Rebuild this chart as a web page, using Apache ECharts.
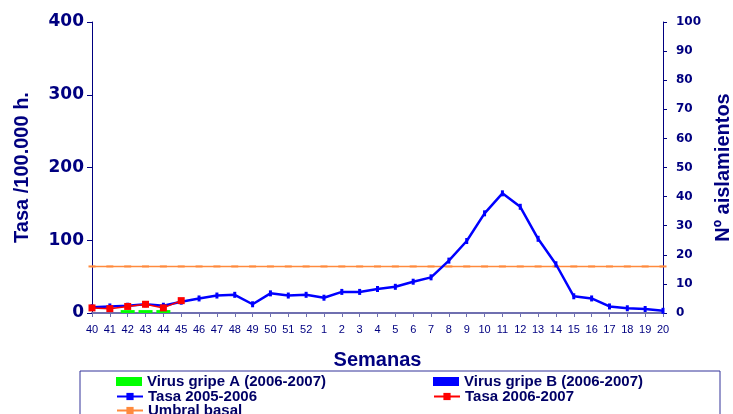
<!DOCTYPE html>
<html><head><meta charset="utf-8">
<script src="https://cdn.jsdelivr.net/npm/echarts@6/dist/echarts.min.js"></script>
<style>html,body{margin:0;padding:0;background:#fff}#c{width:733px;height:414px}</style>
</head><body><div id="c"></div>
<script>
var categories = ['40','41','42','43','44','45','46','47','48','49','50','51','52','1','2','3','4','5','6','7','8','9','10','11','12','13','14','15','16','17','18','19','20'];
var tasa0506 = [8,9,10,12,10,15.5,20,24,25,12,27,24,25,21,29,29,33,36,43,49,72,99,137,164.5,146,102,67,23,20,9,6.5,5.5,3];
var tasa0607 = [7,6,9,12,7,17,null,null,null,null,null,null,null,null,null,null,null,null,null,null,null,null,null,null,null,null,null,null,null,null,null,null,null];
var umbral = [64,64,64,64,64,64,64,64,64,64,64,64,64,64,64,64,64,64,64,64,64,64,64,64,64,64,64,64,64,64,64,64,64];
var virusA = [0,0,1,1,1,0,0,0,0,0,0,0,0,0,0,0,0,0,0,0,0,0,0,0,0,0,0,0,0,0,0,0,0];
var virusB = [0,0,0,0,0,0,0,0,0,0,0,0,0,0,0,0,0,0,0,0,0,0,0,0,0,0,0,0,0,0,0,0,0];
var leftTicks = {min:0,max:400,interval:100};
var rightTicks = {min:0,max:100,interval:10};

var navy = '#000080';
var chart = echarts.init(document.getElementById('c'), null, {renderer:'canvas'});
var legendText = {color:'#000066', fontFamily:'Liberation Sans', fontWeight:'bold', fontSize:15};
function leg(name, left, top, icon){
  var l = {data:[{name:name}], left:left, top:top, itemWidth:26, itemHeight:9, itemGap:5, padding:0, textStyle:legendText, selectedMode:false};
  if (icon) l.data[0].icon = icon;
  return l;
}
chart.setOption({
  animation:false,
  grid:{left:92, right:70, top:22, bottom:101, outerBoundsMode:'none'},
  legend:[
    leg('Virus gripe A (2006-2007)',116,374,'rect'),
    leg('Virus gripe B (2006-2007)',433,374,'rect'),
    leg('Tasa 2005-2006',116,389),
    leg('Tasa 2006-2007',433,389),
    leg('Umbral basal',116,403)
  ],
  graphic:[{type:'rect', shape:{x:80,y:371,width:640,height:60}, style:{fill:'none', stroke:'#333399', lineWidth:1}, silent:true}],
  xAxis:{type:'category', data:categories, boundaryGap:false,
    name:'Semanas', nameLocation:'middle', nameGap:37,
    nameTextStyle:{color:navy, fontFamily:'Liberation Sans', fontWeight:'bold', fontSize:20},
    axisLine:{lineStyle:{color:'#6f6fb0', width:2}},
    axisTick:{alignWithLabel:true, length:4, lineStyle:{color:'#6f6fb0'}},
    axisLabel:{color:navy, fontFamily:'Liberation Sans', fontSize:11, margin:11, interval:0},
    splitLine:{show:false}},
  yAxis:[
    {type:'value', min:leftTicks.min, max:leftTicks.max, interval:leftTicks.interval,
     name:'Tasa /100.000 h.', nameLocation:'middle', nameGap:60, nameRotate:90,
     nameTextStyle:{color:navy, fontFamily:'Liberation Sans', fontWeight:'bold', fontSize:20},
     axisLine:{show:true, lineStyle:{color:navy, width:1}},
     axisTick:{show:true, length:5, lineStyle:{color:navy}},
     axisLabel:{color:navy, fontFamily:'DejaVu Sans', fontWeight:'bold', fontSize:17, margin:8},
     splitLine:{show:false}},
    {type:'value', min:rightTicks.min, max:rightTicks.max, interval:rightTicks.interval, position:'right',
     name:'Nº aislamientos', nameLocation:'middle', nameGap:50, nameRotate:90,
     nameTextStyle:{color:navy, fontFamily:'Liberation Sans', fontWeight:'bold', fontSize:20},
     axisLine:{show:true, lineStyle:{color:navy, width:1}},
     axisTick:{show:true, length:4, lineStyle:{color:navy}},
     axisLabel:{color:navy, fontFamily:'DejaVu Sans', fontWeight:'bold', fontSize:12, margin:13},
     splitLine:{show:false}}
  ],
  series:[
    {name:'Virus gripe A (2006-2007)', type:'bar', yAxisIndex:1, data:virusA, barWidth:14, barGap:'-100%', itemStyle:{color:'#00ff00'}, z:3},
    {name:'Virus gripe B (2006-2007)', type:'bar', yAxisIndex:1, data:virusB, barWidth:14, itemStyle:{color:'#0000ff'}, z:3},
    {name:'Umbral basal', type:'line', data:umbral, symbol:'rect', symbolSize:[7,2], showAllSymbol:true,
     lineStyle:{color:'#ff8a3d', width:1.5}, itemStyle:{color:'#ff8a3d'}, z:4},
    {name:'Tasa 2005-2006', type:'line', data:tasa0506, symbol:'rect', symbolSize:[3,6], showAllSymbol:true,
     lineStyle:{color:'#0000ff', width:2.5}, itemStyle:{color:'#0000ff'}, z:5},
    {name:'Tasa 2006-2007', type:'line', data:tasa0607, symbol:'rect', symbolSize:7, showAllSymbol:true,
     lineStyle:{color:'#ff0000', width:1.5}, itemStyle:{color:'#ff0000'}, z:6}
  ]
});
</script></body></html>
